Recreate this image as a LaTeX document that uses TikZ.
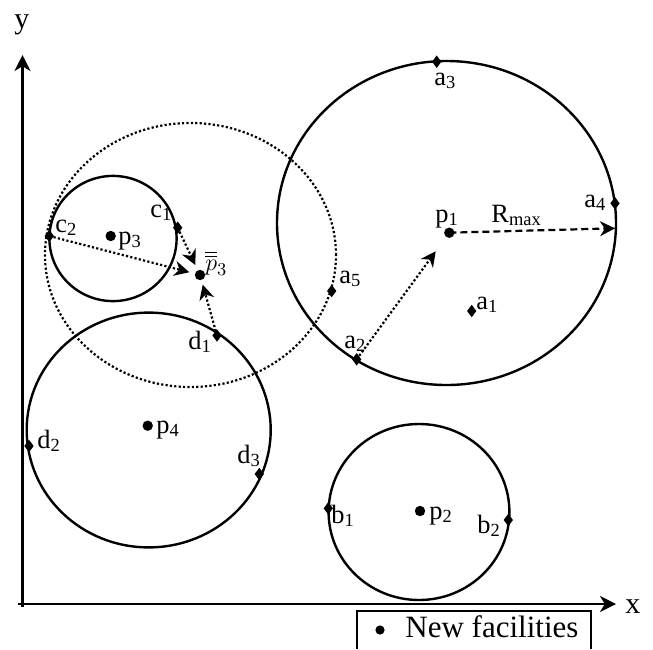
\documentclass[tikz,border=0pt]{standalone}
\usepackage{fontspec}
\setmainfont{Liberation Serif}
\usetikzlibrary{arrows.meta,shapes.geometric}
\newcommand{\sbs}[1]{\textsubscript{#1}}
\begin{document}
\begin{tikzpicture}[x=0.5pt,y=-0.5pt,
  curve/.style={line width=1.2pt},
  dotline/.style={line width=1.1pt, dash pattern=on 1.1pt off 1.1pt},
  dashline/.style={line width=1.1pt, dash pattern=on 3.5pt off 2pt},
  ptdot/.style={circle,fill=black,inner sep=0,minimum size=5.2pt},
  dm/.style={diamond,fill=black,inner sep=0,minimum width=4.8pt,minimum height=6.4pt},
  lbl/.style={anchor=base west,inner sep=0,font=\fontsize{13.2}{15}\selectfont},
  axlbl/.style={anchor=base west,inner sep=0,font=\fontsize{15}{17}\selectfont},
  arr/.style={-{Stealth[length=7.5pt,width=7.5pt,inset=2.4pt]}},
  axarr/.style={line width=1.2pt,-{Stealth[length=8pt,width=8pt,inset=2.4pt]}}
]
\useasboundingbox (0,0) rectangle (653,649);

% axes
\coordinate (yb) at (22.5,607);
\coordinate (yt) at (22.5,55);
\coordinate (xl) at (18,604);
\coordinate (xr) at (616,604);
\draw[axarr] (yb) -- (yt);
\draw[axarr] (xl) -- (xr);
\node[axlbl] (xlab) at (625,613) {x};
\node[axlbl] (ylab) at (14,28) {y};

% circles
\draw[curve] (446.5,223) ellipse [x radius=84.75pt, y radius=81pt];
\draw[dotline] (190.5,255) ellipse [x radius=72.75pt, y radius=66pt];
\draw[curve] (113,238.5) ellipse [x radius=31.8pt, y radius=31.3pt];
\draw[curve] (148.7,430) ellipse [x radius=61pt, y radius=58.7pt];
\draw[curve] (419,512) ellipse [x radius=45.2pt, y radius=44pt];

% facility points
\node[ptdot] (p1) at (449.3,232.7) {};
\node[ptdot] (p2) at (420,511) {};
\node[ptdot] (p3) at (110.7,236) {};
\node[ptdot] (p4) at (147.7,425.7) {};
\node[ptdot] (p3b) at (200,275) {};

% demand points
\node[dm] (a1) at (471.7,311) {};
\node[dm] (a2) at (356.7,359.3) {};
\node[dm] (a3) at (436.7,61.7) {};
\node[dm] (a4) at (615,203.3) {};
\node[dm] (a5) at (331.7,291) {};
\node[dm] (b1) at (328.3,508.3) {};
\node[dm] (b2) at (508.3,520) {};
\node[dm] (c1) at (177.7,227.7) {};
\node[dm] (c2) at (49.3,236) {};
\node[dm] (d1) at (217,335.5) {};
\node[dm] (d2) at (29,446) {};
\node[dm] (d3) at (259.3,474) {};

% labels
\node[lbl] (la1) at (476,309) {a\sbs{1}};
\node[lbl] (la2) at (344,348) {a\sbs{2}};
\node[lbl] (la3) at (434,85) {a\sbs{3}};
\node[lbl] (la4) at (584,207) {a\sbs{4}};
\node[lbl] (la5) at (339,283) {a\sbs{5}};
\node[lbl] (lb1) at (331,523) {b\sbs{1}};
\node[lbl] (lb2) at (477,533) {b\sbs{2}};
\node[lbl] (lc1) at (150,217) {c\sbs{1}};
\node[lbl] (lc2) at (55,232) {c\sbs{2}};
\node[lbl] (ld1) at (188,349) {d\sbs{1}};
\node[lbl] (ld2) at (37,448) {d\sbs{2}};
\node[lbl] (ld3) at (237,463) {d\sbs{3}};
\node[lbl] (lp1) at (435,222) {p\sbs{1}};
\node[lbl] (lp2) at (429,519) {p\sbs{2}};
\node[lbl] (lp3) at (118,244) {p\sbs{3}};
\node[lbl] (lp4) at (156,433) {p\sbs{4}};
\node[lbl] (lp3b) at (205,270) {$\overline{\overline{p}}_3$};
\node[lbl] (lR) at (491,222) {R\sbs{max}};

% connectors
\draw[dashline,arr] (p1.center) -- (a4.center |- 0,228.3);
\draw[dotline,arr,shorten >=11.5pt] (a2.center) -- (p1.center);
\draw[dotline,arr,shorten >=5.5pt] (c2.center) -- (p3b.center);
\draw[dotline,arr,shorten >=5.5pt] (c1.center) -- (p3b.center);
\draw[dotline,arr,shorten >=5pt] (d1.center) -- (p3b.center);

% legend
\coordinate (lg1) at (357,649);
\coordinate (lg2) at (357,611);
\coordinate (lg3) at (591,611);
\coordinate (lg4) at (591,649);
\draw[line width=1pt] (lg1) -- (lg2) -- (lg3) -- (lg4);
\node[circle,fill=black,inner sep=0,minimum size=4.6pt] (lgdot) at (380,630) {};
\node[anchor=base west,inner sep=0,font=\fontsize{15.5}{18}\selectfont] (lgtext) at (405,637.3) {New facilities};
\end{tikzpicture}
\end{document}
